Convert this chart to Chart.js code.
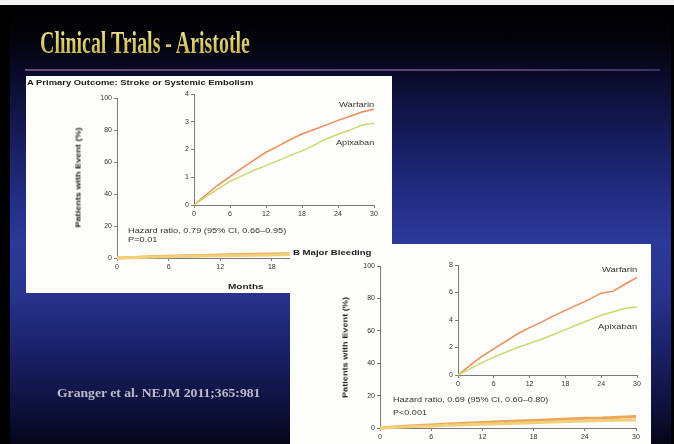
<!DOCTYPE html>
<html><head><meta charset="utf-8">
<script src="https://cdn.jsdelivr.net/npm/chart.js@4.4.0/dist/chart.umd.min.js"></script>
<style>
html,body{margin:0;padding:0;width:674px;height:444px;overflow:hidden;background:#000;}
#slide{position:absolute;left:0;top:0;width:674px;height:444px;overflow:hidden;filter:blur(0.45px);
 background:linear-gradient(180deg,#000000 0%,#03030a 9%,#0a0b2a 17%,#151b58 30%,#232e86 45%,#2c3998 55%,#28348e 66%,#1b226a 78%,#0f1342 90%,#05061a 100%);}
.abs{position:absolute}
canvas{position:absolute;left:0;top:0}
.panel{position:absolute;background:#fdfdfb}
.t{position:absolute;white-space:nowrap;line-height:1;transform-origin:0 50%}
</style></head><body>
<div id="slide">
 <div class="abs" style="left:0;top:0;width:674px;height:5px;background:#f2f2f2"></div>
 <div class="abs" style="left:0;top:5px;width:10px;height:439px;background:#000"></div>
 <div class="abs" style="left:671px;top:5px;width:3px;height:439px;background:#000"></div>
 <div class="abs" style="left:25px;top:69px;width:635px;height:2px;background:linear-gradient(90deg,#6b4b7a,#5a4274 70%,#3c3266)"></div>
 <div class="panel" style="left:26px;top:76px;width:366px;height:217px;z-index:1"></div>
 <canvas id="cA" width="674" height="444" style="z-index:2"></canvas>
 <canvas id="cAi" width="674" height="444" style="z-index:2"></canvas>
 <div class="panel" style="left:290px;top:244px;width:361px;height:200px;z-index:3"></div>
 <canvas id="cB" width="674" height="444" style="z-index:4"></canvas>
 <canvas id="cBi" width="674" height="444" style="z-index:4"></canvas>
</div>
<script>
// ---- data ----
const months = [0, 2, 4, 6, 8, 10, 12, 14, 16, 18, 20, 22, 24, 26, 28, 30];
const strokeWarfarin = [0, 0.37, 0.72, 1.02, 1.33, 1.62, 1.90, 2.12, 2.35, 2.56, 2.72, 2.88, 3.05, 3.20, 3.35, 3.45];
const strokeApixaban = [0, 0.30, 0.58, 0.85, 1.05, 1.25, 1.42, 1.60, 1.78, 1.95, 2.15, 2.38, 2.55, 2.70, 2.88, 2.95];
const bleedWarfarin = [0, 0.70, 1.35, 1.90, 2.45, 3.00, 3.45, 3.85, 4.30, 4.70, 5.10, 5.50, 5.95, 6.10, 6.60, 7.10];
const bleedApixaban = [0, 0.45, 0.90, 1.30, 1.65, 2.00, 2.30, 2.60, 2.95, 3.30, 3.65, 4.00, 4.35, 4.60, 4.85, 4.95];
const monthTicks = [0, 6, 12, 18, 24, 30];
const percentTicks = [0, 20, 40, 60, 80, 100];
const strokeInsetTicks = [0, 1, 2, 3, 4];
const bleedInsetTicks = [0, 2, 4, 6, 8];

const W = 674, H = 444, YW = 30, XH = 20;
const FONT = "'Liberation Sans', Arial, sans-serif";
const SERIF = "'Liberation Serif', 'Times New Roman', serif";

function toXY(ys){ return months.map((m,i)=>({x:m, y:ys[i]})); }

function axis(ticksArr, isX){
  return {
    type:'linear', min: ticksArr[0], max: ticksArr[ticksArr.length-1],
    afterBuildTicks(s){ s.ticks = ticksArr.map(v=>({value:v})); },
    ticks:{color:'#333', font:{size:7, family:FONT}, padding:2, maxRotation:0, autoSkip:false},
    grid:{drawOnChartArea:false, drawTicks:true, tickLength:3, color:'#7a7a7a', lineWidth:1},
    border:{color:'#7a7a7a', width:1},
    afterFit(s){ if(isX) s.height = XH; else s.width = YW; }
  };
}

function makeChart(id, area, xTicks, yTicks, series){
  return new Chart(document.getElementById(id), {
    type:'line',
    data:{ datasets: series.map(s=>({
      data: toXY(s.values), borderColor: s.color, borderWidth: s.width,
      pointRadius:0, tension:0, fill:false, clip:4
    }))},
    options:{
      responsive:false, animation:false, events:[],
      layout:{padding:{left: area.l - YW, right: W - area.r, top: area.t, bottom: H - area.b - XH}},
      plugins:{legend:{display:false}, tooltip:{enabled:false}, title:{display:false}},
      scales:{ x: axis(xTicks, true), y: axis(yTicks, false) }
    }
  });
}

// Panel A main + inset
makeChart('cA', {l:117, r:375, t:98, b:258}, monthTicks, percentTicks, [
  {values: strokeApixaban, color:'#f2cf78', width:3},
  {values: strokeWarfarin, color:'#eba65a', width:3}
]);
makeChart('cAi', {l:194, r:374, t:94, b:205}, monthTicks, strokeInsetTicks, [
  {values: strokeApixaban, color:'#cdd86c', width:1.5},
  {values: strokeWarfarin, color:'#ec8c58', width:1.5}
]);
// Panel B main + inset
makeChart('cB', {l:380, r:636, t:266, b:428}, monthTicks, percentTicks, [
  {values: bleedApixaban, color:'#f2cf78', width:3},
  {values: bleedWarfarin, color:'#eba65a', width:3}
]);
makeChart('cBi', {l:458, r:637, t:265, b:375}, monthTicks, bleedInsetTicks, [
  {values: bleedApixaban, color:'#cdd86c', width:1.5},
  {values: bleedWarfarin, color:'#ec8c58', width:1.5}
]);

// ---- text ----
const slide = document.getElementById('slide');
function place(txt, x, yc, o){
  const d = document.createElement('div');
  d.className = 't';
  d.textContent = txt;
  const fs = o.fs;
  d.style.font = (o.weight||'normal') + ' ' + fs + 'px ' + (o.family||FONT);
  d.style.color = o.color || '#333';
  d.style.zIndex = o.z || 5;
  if(o.bg) { d.style.backgroundImage = o.bg; d.style.webkitBackgroundClip='text'; d.style.backgroundClip='text'; d.style.color='transparent'; }
  slide.appendChild(d);
  const w = d.offsetWidth;
  let sx = o.scale || (o.w ? o.w / w : 1);
  if(o.rot){
    d.style.transformOrigin = '50% 50%';
    d.style.left = (x - w/2) + 'px';
    d.style.top = (yc - fs/2) + 'px';
    d.style.transform = 'rotate(-90deg) scaleX(' + sx + ')';
  } else {
    d.style.left = x + 'px';
    d.style.top = (yc - fs/2) + 'px';
    d.style.transform = 'scaleX(' + sx + ')';
  }
  return sx;
}

place('Clinical Trials - Aristotle', 40, 40, {fs:31, weight:'bold', family:SERIF, w:210,
  bg:'linear-gradient(180deg,#f2e8a0 0%,#dccc6c 50%,#bca63e 100%)', z:6});
place('Granger et al. NEJM 2011;365:981', 57, 393, {fs:11.5, weight:'bold', family:SERIF, w:203, color:'#bcbcc8', z:6});

place('A  Primary Outcome: Stroke or Systemic Embolism', 27, 82, {fs:8, weight:'bold', w:226, color:'#1a1a1a', z:2});
place('Patients with Event (%)', 78, 177, {fs:8, weight:'bold', w:100, color:'#222', rot:true, z:2});
place('Months', 228, 286, {fs:8, weight:'bold', w:35, color:'#222', z:2});
let s1 = place('Hazard ratio, 0.79 (95% CI, 0.66\u20130.95)', 128, 230, {fs:7, w:158, color:'#333', z:2});
place('P=0.01', 128, 239, {fs:7, scale:s1, color:'#333', z:2});
place('Warfarin', 339, 104, {fs:7, w:35, color:'#333', z:2});
place('Apixaban', 336, 142, {fs:7, w:38, color:'#333', z:2});

place('B  Major Bleeding', 293, 252, {fs:8, weight:'bold', w:78, color:'#1a1a1a', z:5});
place('Patients with Event (%)', 345, 347, {fs:8, weight:'bold', w:101, color:'#222', rot:true, z:5});
let s2 = place('Hazard ratio, 0.69 (95% CI, 0.60\u20130.80)', 393, 399, {fs:7, w:155, color:'#333', z:5});
place('P<0.001', 393, 412, {fs:7, scale:s2, color:'#333', z:5});
place('Warfarin', 602, 269, {fs:7, w:35, color:'#333', z:5});
place('Apixaban', 598, 326, {fs:7, w:39, color:'#333', z:5});
</script>
</body></html>
